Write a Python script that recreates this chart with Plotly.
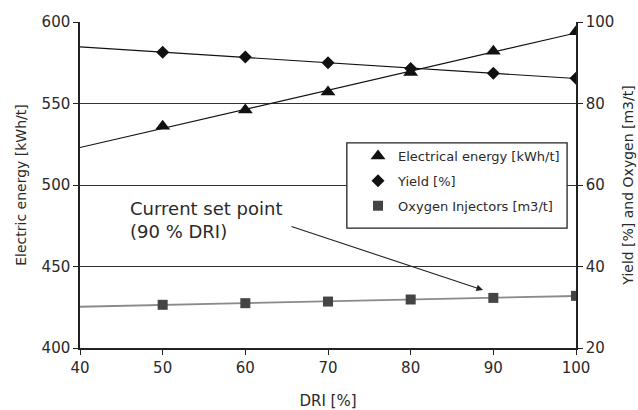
import numpy as np
import plotly.graph_objects as go

# ---- data ----
dri = [50, 60, 70, 80, 90, 100]
energy = [536, 546, 557, 569, 582, 594]          # kWh/t, left axis
yield_pct = [92.6, 91.4, 90.0, 88.6, 87.4, 86.2]  # %, right axis
oxygen = [30.6, 31.0, 31.4, 31.9, 32.3, 32.8]     # m3/t, right axis
x_span = [40, 100]

names = ["Electrical energy [kWh/t]", "Yield [%]", "Oxygen Injectors [m3/t]"]

FONT = "DejaVu Sans"
TXT = "#2a2a2a"


def trend(xs, ys, span):
    c = np.polyfit(xs, ys, 1)
    return list(span), list(np.polyval(c, span))


fig = go.Figure()

# trend lines
tx, ty = trend(dri, energy, x_span)
fig.add_trace(go.Scatter(x=tx, y=ty, mode="lines", line=dict(color="#111", width=1.1),
                         showlegend=False, hoverinfo="skip"))
tx, ty = trend(dri, yield_pct, x_span)
fig.add_trace(go.Scatter(x=tx, y=ty, mode="lines", line=dict(color="#111", width=1.1),
                         showlegend=False, hoverinfo="skip", yaxis="y2"))
tx, ty = trend(dri, oxygen, x_span)
fig.add_trace(go.Scatter(x=tx, y=ty, mode="lines", line=dict(color="#8a8a8a", width=1.8),
                         showlegend=False, hoverinfo="skip", yaxis="y2"))

# markers
fig.add_trace(go.Scatter(x=dri, y=energy, mode="markers", name=names[0], legendgroup="a",
                         marker=dict(symbol="triangle-up", size=13, color="#111")))
fig.add_trace(go.Scatter(x=dri, y=yield_pct, mode="markers", name=names[1], legendgroup="b",
                         marker=dict(symbol="diamond", size=10, color="#111"), yaxis="y2"))
fig.add_trace(go.Scatter(x=dri, y=oxygen, mode="markers", name=names[2], legendgroup="c",
                         marker=dict(symbol="square", size=10, color="#444"), yaxis="y2"))

# legend box
fig.add_shape(type="rect", xref="paper", yref="paper", x0=0.538, x1=0.982, y0=0.368, y1=0.629,
              line=dict(color="#222", width=1.3), fillcolor="white", layer="above")

# annotation
fig.add_annotation(x=45.8, y=478.5, xref="x", yref="y", text="Current set point<br>(90 % DRI)",
                   showarrow=False, xanchor="left", yanchor="middle", align="left",
                   font=dict(family=FONT, size=18, color=TXT))
fig.add_annotation(x=88.75, y=435.6, ax=65.4, ay=474.8, xref="x", yref="y", axref="x", ayref="y",
                   text="", showarrow=True, arrowhead=2, arrowsize=1.2, arrowwidth=1.1,
                   arrowcolor="#222")

axis_common = dict(showline=True, linecolor="#222", linewidth=1.5, ticks="outside", ticklen=5,
                   tickcolor="#222", tickwidth=1.3, zeroline=False, automargin=False,
                   tickfont=dict(family=FONT, size=15, color=TXT))

fig.update_layout(
    width=638, height=410,
    margin=dict(l=80, r=62, t=22, b=62),
    paper_bgcolor="white", plot_bgcolor="white",
    font=dict(family=FONT, color=TXT),
    xaxis=dict(range=[40, 100], dtick=10, showgrid=False,
               title=dict(text="DRI [%]", font=dict(family=FONT, size=15, color=TXT), standoff=20),
               **axis_common),
    yaxis=dict(range=[400, 600], dtick=50, showgrid=True, gridcolor="#333", gridwidth=1.2,
               title=dict(text="Electric energy [kWh/t]", font=dict(family=FONT, size=14, color=TXT),
                          standoff=12),
               **axis_common),
    yaxis2=dict(range=[20, 100], dtick=20, overlaying="y", side="right", showgrid=False,
                title=dict(text="Yield [%] and Oxygen [m3/t]",
                           font=dict(family=FONT, size=14, color=TXT), standoff=10),
                **axis_common),
    legend=dict(x=0.5605, y=0.635, xanchor="left", yanchor="top", bgcolor="rgba(0,0,0,0)",
                borderwidth=0, tracegroupgap=5, itemwidth=30,
                font=dict(family=FONT, size=13, color=TXT)),
    showlegend=True,
)

fig.write_html("out.html", config={"displayModeBar": False},
               post_script="document.body.style.margin='0';document.body.style.overflow='hidden';")
